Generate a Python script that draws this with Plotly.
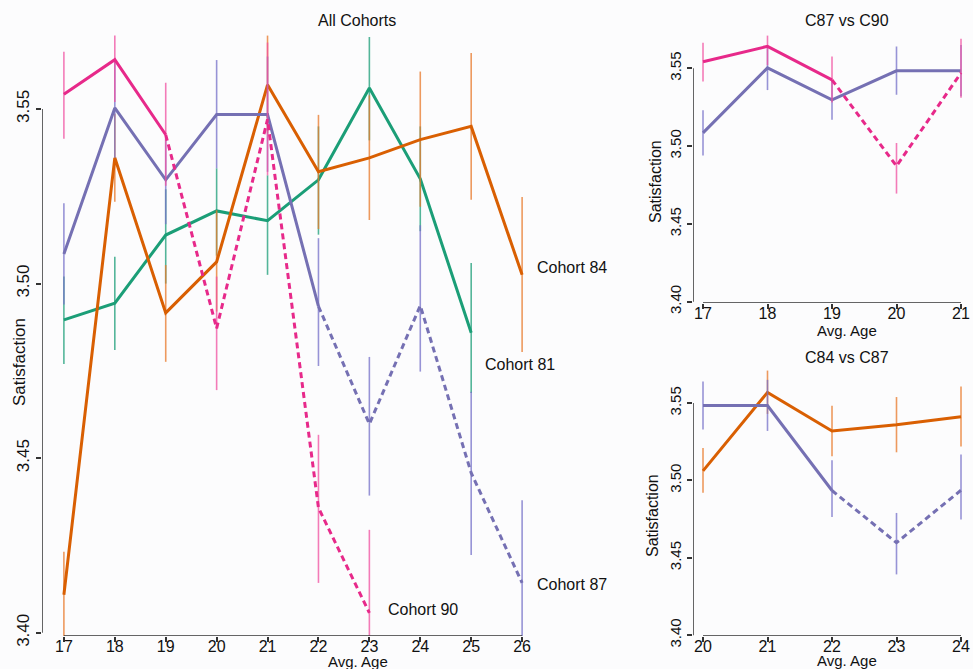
import plotly.graph_objects as go

# ---------------- data ----------------
ages_81 = [17, 18, 19, 20, 21, 22, 23, 24, 25]
sat_81 = [3.4896, 3.4944, 3.5139, 3.5208, 3.5180, 3.5297, 3.5560, 3.5300, 3.4859]
lo_81 = [3.4770, 3.4810, 3.5000, 3.5080, 3.5025, 3.5140, 3.5410, 3.5150, 3.4687]
hi_81 = [3.5020, 3.5077, 3.5270, 3.5330, 3.5310, 3.5450, 3.5706, 3.5450, 3.5059]

ages_84 = [17, 18, 19, 20, 21, 22, 23, 24, 25, 26]
sat_84 = [3.4109, 3.5360, 3.4916, 3.5062, 3.5569, 3.5320, 3.5360, 3.5412, 3.5450, 3.5025]
lo_84 = [3.3990, 3.5234, 3.4776, 3.4920, 3.5430, 3.5156, 3.5182, 3.5220, 3.5240, 3.4804]
hi_84 = [3.4232, 3.5486, 3.5053, 3.5210, 3.5710, 3.5483, 3.5539, 3.5607, 3.5660, 3.5248]

ages_87 = [17, 18, 19, 20, 21, 22, 23, 24, 25, 26]
sat_87 = [3.5085, 3.5503, 3.5297, 3.5484, 3.5484, 3.4935, 3.4598, 3.4937, 3.4458, 3.4143]
lo_87 = [3.4940, 3.5360, 3.5170, 3.5330, 3.5320, 3.4764, 3.4393, 3.4748, 3.4223, 3.3990]
hi_87 = [3.5230, 3.5640, 3.5420, 3.5640, 3.5650, 3.5130, 3.4790, 3.5167, 3.4690, 3.4380]

ages_90 = [17, 18, 19, 20, 21, 22, 23]
sat_90 = [3.5542, 3.5641, 3.5426, 3.4872, 3.5470, 3.4358, 3.4057]
lo_90 = [3.5415, 3.5520, 3.5280, 3.4695, 3.5310, 3.4143, 3.3990]
hi_90 = [3.5664, 3.5710, 3.5575, 3.5020, 3.5690, 3.4567, 3.4295]

# age from which each cohort's line is drawn dashed (None = all solid)
dash_from_81 = None
dash_from_84 = None
dash_from_87 = 22
dash_from_90 = 19

y_ticks = [3.40, 3.45, 3.50, 3.55]
main_x_ticks = [17, 18, 19, 20, 21, 22, 23, 24, 25, 26]
top_x_ticks = [17, 18, 19, 20, 21]
bot_x_ticks = [20, 21, 22, 23, 24]

# ---------------- styling ----------------
W, H = 973, 669
FONT = "Liberation Sans, Arial, sans-serif"
AXC = "#333333"

def px(x):
    return x / W

def py(y):
    return 1 - y / H

cohorts = {
    "81": dict(ages=ages_81, sat=sat_81, lo=lo_81, hi=hi_81, dash_from=dash_from_81,
               color="#1B9E77", ecolor="rgba(27,158,119,0.75)"),
    "84": dict(ages=ages_84, sat=sat_84, lo=lo_84, hi=hi_84, dash_from=dash_from_84,
               color="#D95F02", ecolor="rgba(232,120,40,0.75)"),
    "87": dict(ages=ages_87, sat=sat_87, lo=lo_87, hi=hi_87, dash_from=dash_from_87,
               color="#7570B3", ecolor="rgba(117,112,200,0.75)"),
    "90": dict(ages=ages_90, sat=sat_90, lo=lo_90, hi=hi_90, dash_from=dash_from_90,
               color="#E7298A", ecolor="rgba(240,80,160,0.75)"),
}

# axis ranges (x range, y range) per panel
rng_main = ([16.57, 26.43], [3.3991, 3.5726])
rng_top = ([16.845, 21.155], [3.3992, 3.5746])
rng_bot = ([19.845, 24.155], [3.3995, 3.5746])

fig = go.Figure()


def add_cohort(key, xa, ya, amin, amax):
    c = cohorts[key]
    idx = [i for i, a in enumerate(c["ages"]) if amin <= a <= amax]
    ages = [c["ages"][i] for i in idx]
    sat = [c["sat"][i] for i in idx]
    lo = [c["lo"][i] for i in idx]
    hi = [c["hi"][i] for i in idx]
    # error bars
    fig.add_trace(go.Scatter(
        x=ages, y=sat, mode="markers", xaxis=xa, yaxis=ya,
        marker=dict(size=1, color="rgba(0,0,0,0)"),
        error_y=dict(type="data", symmetric=False,
                     array=[h - m for h, m in zip(hi, sat)],
                     arrayminus=[m - l for m, l in zip(sat, lo)],
                     width=0, thickness=1.6, color=c["ecolor"]),
        showlegend=False, hoverinfo="skip"))
    df = c["dash_from"]
    if df is None:
        solid = list(range(len(ages)))
        dashed = []
    else:
        solid = [i for i, a in enumerate(ages) if a <= df]
        dashed = [i for i, a in enumerate(ages) if a >= df]
    if len(solid) > 1:
        fig.add_trace(go.Scatter(
            x=[ages[i] for i in solid], y=[sat[i] for i in solid], mode="lines",
            xaxis=xa, yaxis=ya, line=dict(color=c["color"], width=3),
            showlegend=False))
    if len(dashed) > 1:
        fig.add_trace(go.Scatter(
            x=[ages[i] for i in dashed], y=[sat[i] for i in dashed], mode="lines",
            xaxis=xa, yaxis=ya, line=dict(color=c["color"], width=3, dash="6px,4px"),
            showlegend=False))


# main panel
for k in ["81", "84", "87", "90"]:
    add_cohort(k, "x", "y", 17, 26)
# top right: C87 vs C90
for k in ["87", "90"]:
    add_cohort(k, "x2", "y2", 17, 21)
# bottom right: C84 vs C87
for k in ["84", "87"]:
    add_cohort(k, "x3", "y3", 20, 24)

# R-style axis lines that span only the tick range
for xa, ya, xt, (xr, yr) in [("x", "y", main_x_ticks, rng_main),
                             ("x2", "y2", top_x_ticks, rng_top),
                             ("x3", "y3", bot_x_ticks, rng_bot)]:
    fig.add_trace(go.Scatter(x=[xr[0], xr[0]], y=[min(y_ticks), max(y_ticks)],
                             mode="lines", xaxis=xa, yaxis=ya, cliponaxis=False,
                             line=dict(color=AXC, width=1.5), showlegend=False,
                             hoverinfo="skip"))
    fig.add_trace(go.Scatter(x=[min(xt), max(xt)], y=[yr[0], yr[0]],
                             mode="lines", xaxis=xa, yaxis=ya, cliponaxis=False,
                             line=dict(color=AXC, width=1.5), showlegend=False,
                             hoverinfo="skip"))

tickfont = dict(family=FONT, size=16, color="#111111")
ytickfont_main = dict(family=FONT, size=17, color="#111111")
ytickfont_side = dict(family=FONT, size=15, color="#111111")

def xaxis_cfg(dom, rng, ticks, anchor):
    return dict(domain=dom, range=rng, tickmode="array", tickvals=ticks,
                ticktext=[str(t) for t in ticks], showline=False, showgrid=False,
                zeroline=False, ticks="outside", ticklen=5, tickwidth=1.5,
                tickcolor=AXC, tickfont=tickfont, anchor=anchor, fixedrange=True,
                ticklabelstandoff=-9, automargin=False)

def yaxis_cfg(dom, rng, anchor, font):
    return dict(domain=dom, range=rng, tickmode="array", tickvals=y_ticks,
                ticktext=["%.2f" % t for t in y_ticks], showline=False,
                showgrid=False, zeroline=False, ticks="outside", ticklen=5,
                tickwidth=1.5, tickcolor=AXC, tickfont=font, tickangle=-90,
                anchor=anchor, fixedrange=True, automargin=False)

fig.update_layout(
    width=W, height=H, autosize=False,
    margin=dict(l=0, r=0, t=0, b=0, pad=0),
    paper_bgcolor="#fcfcfd", plot_bgcolor="#fcfcfd",
    showlegend=False,
    font=dict(family=FONT, size=16, color="#111111"),
    xaxis=xaxis_cfg([px(42), px(544)], rng_main[0], main_x_ticks, "y"),
    yaxis=yaxis_cfg([py(636), py(30)], rng_main[1], "x", ytickfont_main),
    xaxis2=xaxis_cfg([px(693), px(971)], rng_top[0], top_x_ticks, "y2"),
    yaxis2=yaxis_cfg([py(303), py(30)], rng_top[1], "x2", ytickfont_side),
    xaxis3=xaxis_cfg([px(693), px(971)], rng_bot[0], bot_x_ticks, "y3"),
    yaxis3=yaxis_cfg([py(636), py(365)], rng_bot[1], "x3", ytickfont_side),
)

ann = []
def text(xp, yp, s, size=16, angle=0, xanchor="center"):
    ann.append(dict(x=px(xp), y=py(yp), xref="paper", yref="paper", text=s,
                    showarrow=False, font=dict(family=FONT, size=size, color="#111111"),
                    textangle=angle, xanchor=xanchor, yanchor="middle"))

# titles
text(357, 20, "All Cohorts")
text(847, 21, "C87 vs C90")
text(847, 357, "C84 vs C87")
# axis titles
text(358, 661, "Avg. Age", size=15)
text(847, 330, "Avg. Age", size=15)
text(847, 660, "Avg. Age", size=15)
text(19, 362, "Satisfaction", size=17, angle=-90)
text(655, 182, "Satisfaction", angle=-90)
text(652, 516, "Satisfaction", angle=-90)

# cohort labels, anchored to each cohort's last point
label_offsets = {"84": (13, 7), "81": (12, -32), "87": (13, -2), "90": (17, 3)}
for k, (dx, dy) in label_offsets.items():
    c = cohorts[k]
    ann.append(dict(x=c["ages"][-1], y=c["sat"][-1], xref="x", yref="y",
                    text="Cohort " + k, showarrow=False, xanchor="left",
                    yanchor="middle", xshift=dx, yshift=dy,
                    font=dict(family=FONT, size=16, color="#111111")))
fig.update_layout(annotations=ann)

post = ("document.documentElement.style.margin='0';"
        "document.documentElement.style.overflow='hidden';"
        "document.body.style.margin='0';document.body.style.overflow='hidden';"
        "var d=document.getElementById('{plot_id}');"
        "d.style.position='absolute';d.style.left='0px';d.style.top='0px';")

fig.write_html("out.html", config={"displayModeBar": False, "responsive": False},
               post_script=post)
